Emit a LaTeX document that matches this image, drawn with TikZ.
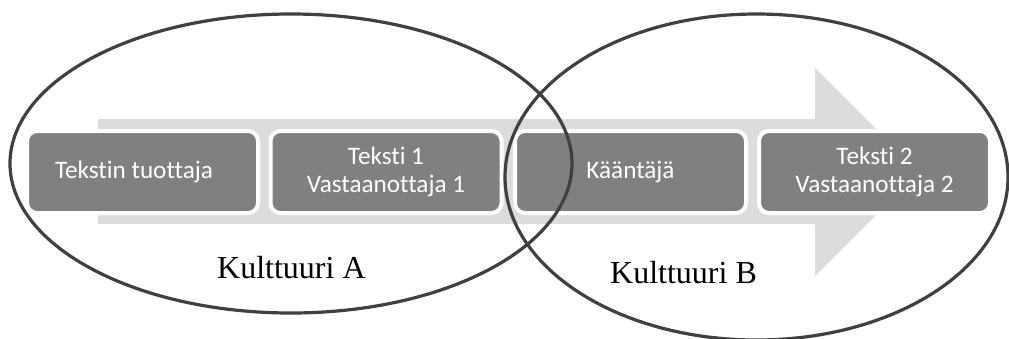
\documentclass[tikz,border=0pt]{standalone}
\usepackage{fontspec}
\usetikzlibrary{shapes.geometric}
\newfontfamily\boxfont[Ligatures=NoCommon]{Carlito}
\newfontfamily\labfont{Liberation Serif}
\definecolor{band}{HTML}{DCDCDC}
\definecolor{boxgray}{HTML}{808080}
\definecolor{ringgray}{HTML}{404040}
\begin{document}
\begin{tikzpicture}[x=1pt,y=-1pt,
  stagebox/.style={rectangle, rounded corners=10pt, fill=boxgray, draw=white,
    line width=4pt, minimum width=231pt, minimum height=82pt, inner sep=0pt,
    text=white, align=center, font=\boxfont\fontsize{25.2}{28}\selectfont},
  culture/.style={ellipse, draw=ringgray, line width=3.2pt, inner sep=0pt, outer sep=0pt},
  culturelabel/.style={font=\labfont\fontsize{32}{36}\selectfont, text=black, inner sep=0pt, anchor=base west}]
\useasboundingbox (0,0) rectangle (1009,338);
% background arrow
\fill[band] (98,119) -- (815,119) -- (815,68) -- (919,172) -- (815,276) -- (815,224) -- (98,224) -- cycle;
% stage boxes
\node[stagebox] (b1) at (142.5,172) {Tekstin tuottaja\hspace*{17pt}};
\node[stagebox] (b2) at (386,172) {Teksti 1\\Vastaanottaja 1};
\node[stagebox] (b3) at (630.5,172) {Kääntäjä};
\node[stagebox] (b4) at (874.5,172) {Teksti 2\\Vastaanottaja 2};
% culture ellipses
\node[culture, minimum width=562pt, minimum height=299pt] (ca) at (291,163.5) {};
\node[culture, minimum width=503pt, minimum height=326pt] (cb) at (756.5,177) {};
% labels
\node[culturelabel] (la) at (217,278) {Kulttuuri A};
\node[culturelabel] (lb) at (610,283) {Kulttuuri B};
\end{tikzpicture}
\end{document}
